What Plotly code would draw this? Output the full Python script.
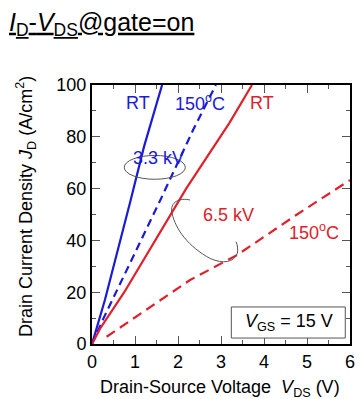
import plotly.graph_objects as go

# I_D - V_DS characteristics with the gate on (V_GS = 15 V)
v_33_rt = [0.0, 0.30, 0.90, 1.21, 1.63]
j_33_rt = [0.0, 17.0, 55.6, 76.2, 100.0]

v_33_hot = [0.0, 0.27, 1.59, 2.35, 2.88]
j_33_hot = [0.0, 10.0, 55.6, 82.6, 100.0]

v_65_rt = [0.0, 0.19, 0.75, 1.46, 1.88, 2.19, 3.20, 3.72]
j_65_rt = [0.0, 6.0, 20.0, 40.0, 51.7, 60.0, 85.5, 100.0]

v_65_hot = [0.34, 1.0, 2.28, 3.38, 4.75, 6.0]
j_65_hot = [2.8, 10.3, 24.7, 34.4, 49.8, 63.3]

x_ticks = [0, 1, 2, 3, 4, 5, 6]
y_ticks = [0, 20, 40, 60, 80, 100]

BLUE = "#1a1ad8"
RED = "#e0202a"
FONT = "Arial, Liberation Sans, sans-serif"

fig = go.Figure()
fig.add_trace(go.Scatter(x=v_33_rt, y=j_33_rt, mode="lines",
                         line=dict(color=BLUE, width=2.2)))
fig.add_trace(go.Scatter(x=v_33_hot, y=j_33_hot, mode="lines",
                         line=dict(color=BLUE, width=2.2, dash="8px,5px")))
fig.add_trace(go.Scatter(x=v_65_rt, y=j_65_rt, mode="lines",
                         line=dict(color=RED, width=2.2)))
fig.add_trace(go.Scatter(x=v_65_hot, y=j_65_hot, mode="lines",
                         line=dict(color=RED, width=2.2, dash="10px,6px")))

axis_common = dict(
    showline=True, linecolor="black", linewidth=2, mirror="allticks",
    ticks="inside", ticklen=8, tickwidth=1, tickcolor="#555",
    showgrid=False, zeroline=False,
    tickfont=dict(family=FONT, size=18, color="black"),
)
fig.update_xaxes(range=[0, 6], tickvals=x_ticks,
                 minor=dict(dtick=0.5, ticks="inside", ticklen=4, tickcolor="#555"),
                 **axis_common)
fig.update_yaxes(range=[0, 100], tickvals=y_ticks,
                 minor=dict(dtick=10, ticks="inside", ticklen=4, tickcolor="#555"),
                 **axis_common)

# grouping marks for the two voltage ratings
fig.add_shape(type="circle", xref="x", yref="y",
              x0=0.75, x1=2.17, y0=63.6, y1=72.8,
              line=dict(color="#555", width=1))
fig.add_shape(type="path", xref="x", yref="y",
              path="M 2.28 55.6 C 2.05 56.5 1.80 55.0 1.86 50.5 "
                   "C 1.95 44.0 2.25 37.5 2.75 33.0 "
                   "C 3.05 30.8 3.30 31.5 3.38 35.0 "
                   "C 3.40 36.5 3.38 38.5 3.35 39.5",
              line=dict(color="#555", width=1))

# V_GS box
fig.add_shape(type="rect", xref="x", yref="y",
              x0=3.24, x1=5.89, y0=2.3, y1=14.3,
              line=dict(color="#555", width=1), fillcolor="white")

labels = [
    ("RT", 1.06, 93.0, BLUE),
    ("150<sup>o</sup>C", 2.50, 93.2, BLUE),
    ("RT", 3.95, 93.0, RED),
    ("3.3 kV", 1.55, 72.0, BLUE),
    ("6.5 kV", 3.18, 49.8, RED),
    ("150<sup>o</sup>C", 5.16, 43.6, RED),
    ("<i>V</i><sub>GS</sub> = 15 V", 4.57, 8.3, "black"),
]
for text, x, y, color in labels:
    fig.add_annotation(x=x, y=y, xref="x", yref="y", text=text, showarrow=False,
                       font=dict(family=FONT, size=18, color=color),
                       xanchor="center", yanchor="middle")

fig.add_annotation(xref="paper", yref="paper", x=-0.255, y=0.53,
                   text="Drain Current Density <i>J</i><sub>D</sub> (A/cm<sup>2</sup>)",
                   textangle=-90, showarrow=False,
                   font=dict(family=FONT, size=18, color="black"),
                   xanchor="center", yanchor="middle")
fig.add_annotation(xref="paper", yref="paper", x=0.496, y=-0.17,
                   text="Drain-Source Voltage  <i>V</i><sub>DS</sub> (V)",
                   showarrow=False,
                   font=dict(family=FONT, size=18, color="black"),
                   xanchor="center", yanchor="middle")

fig.update_layout(
    width=363, height=399,
    margin=dict(l=92, r=8, t=85, b=55),
    paper_bgcolor="white", plot_bgcolor="white",
    showlegend=False,
    title=dict(text="<u><i>I</i><sub>D</sub>-<i>V</i><sub>DS</sub>@gate=on</u>",
               x=9 / 363, xanchor="left", xref="container",
               y=1 - 22 / 399, yanchor="middle", yref="container",
               font=dict(family=FONT, size=25, color="black")),
)

fig.write_html("out.html")
